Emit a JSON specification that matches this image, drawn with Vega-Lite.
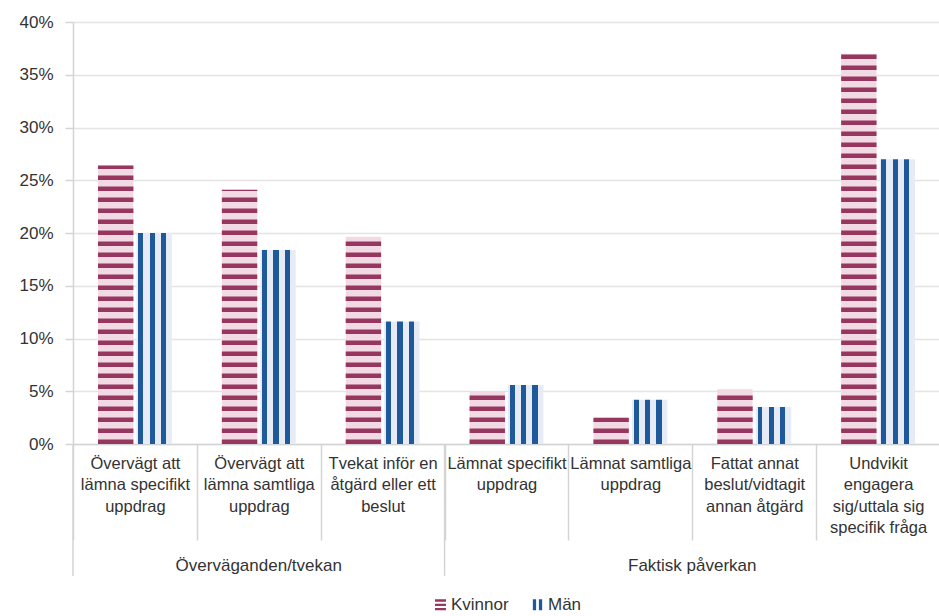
{
  "$schema": "https://vega.github.io/schema/vega-lite/v6.json",
  "width": 867,
  "height": 422,
  "padding": {"left": 18, "top": 13, "right": 0, "bottom": 0},
  "background": "white",
  "config": {
    "font": "Liberation Sans",
    "view": {"stroke": null},
    "legend": {"layout": {"bottom": {"anchor": "middle"}}}
  },
  "data": {
    "values": [
      {"group": "Överväganden/tvekan", "cat": "Övervägt att\nlämna specifikt\nuppdrag", "gender": "Kvinnor", "value": 0.264},
      {"group": "Överväganden/tvekan", "cat": "Övervägt att\nlämna specifikt\nuppdrag", "gender": "Män", "value": 0.200},
      {"group": "Överväganden/tvekan", "cat": "Övervägt att\nlämna samtliga\nuppdrag", "gender": "Kvinnor", "value": 0.241},
      {"group": "Överväganden/tvekan", "cat": "Övervägt att\nlämna samtliga\nuppdrag", "gender": "Män", "value": 0.184},
      {"group": "Överväganden/tvekan", "cat": "Tvekat inför en\nåtgärd eller ett\nbeslut", "gender": "Kvinnor", "value": 0.1965},
      {"group": "Överväganden/tvekan", "cat": "Tvekat inför en\nåtgärd eller ett\nbeslut", "gender": "Män", "value": 0.116},
      {"group": "Faktisk påverkan", "cat": "Lämnat specifikt\nuppdrag", "gender": "Kvinnor", "value": 0.050},
      {"group": "Faktisk påverkan", "cat": "Lämnat specifikt\nuppdrag", "gender": "Män", "value": 0.056},
      {"group": "Faktisk påverkan", "cat": "Lämnat samtliga\nuppdrag", "gender": "Kvinnor", "value": 0.025},
      {"group": "Faktisk påverkan", "cat": "Lämnat samtliga\nuppdrag", "gender": "Män", "value": 0.042},
      {"group": "Faktisk påverkan", "cat": "Fattat annat\nbeslut/vidtagit\nannan åtgärd", "gender": "Kvinnor", "value": 0.052},
      {"group": "Faktisk påverkan", "cat": "Fattat annat\nbeslut/vidtagit\nannan åtgärd", "gender": "Män", "value": 0.035},
      {"group": "Faktisk påverkan", "cat": "Undvikit\nengagera\nsig/uttala sig\nspecifik fråga", "gender": "Kvinnor", "value": 0.370},
      {"group": "Faktisk påverkan", "cat": "Undvikit\nengagera\nsig/uttala sig\nspecifik fråga", "gender": "Män", "value": 0.270}
    ]
  },
  "encoding": {
    "x": {
      "field": "cat",
      "type": "nominal",
      "scale": {
        "domain": [
          "Övervägt att\nlämna specifikt\nuppdrag",
          "Övervägt att\nlämna samtliga\nuppdrag",
          "Tvekat inför en\nåtgärd eller ett\nbeslut",
          "Lämnat specifikt\nuppdrag",
          "Lämnat samtliga\nuppdrag",
          "Fattat annat\nbeslut/vidtagit\nannan åtgärd",
          "Undvikit\nengagera\nsig/uttala sig\nspecifik fråga"
        ],
        "paddingInner": 0,
        "paddingOuter": 0
      },
      "axis": {
        "title": null,
        "labelExpr": "split(datum.label, '\\n')",
        "labelFont": "Liberation Sans",
        "labelFontSize": 16.5,
        "labelLineHeight": 21.5,
        "labelColor": "#333333",
        "labelAngle": 0,
        "labelAlign": "center",
        "labelBaseline": "top",
        "labelPadding": -85,
        "labelLimit": 400,
        "labelOverlap": false,
        "tickBand": "extent",
        "tickSize": 96,
        "tickColor": "#d4d4d4",
        "tickWidth": 1.5,
        "domainColor": "#d4d4d4",
        "domainWidth": 1.5
      }
    },
    "y": {
      "field": "value",
      "type": "quantitative",
      "scale": {"domain": [0, 0.4], "nice": false, "zero": false},
      "axis": {
        "title": null,
        "format": ".0%",
        "values": [0, 0.05, 0.1, 0.15, 0.2, 0.25, 0.3, 0.35, 0.4],
        "labelFont": "Liberation Sans",
        "labelFontSize": 17,
        "labelColor": "#333333",
        "labelPadding": 12,
        "tickSize": 8,
        "tickColor": "#d4d4d4",
        "tickWidth": 1.5,
        "domainColor": "#d4d4d4",
        "domainWidth": 1.5,
        "gridColor": "#e4e4e4",
        "gridWidth": 1.5
      }
    }
  },
  "layer": [
    {
      "transform": [{"filter": "datum.gender === 'Kvinnor'"}],
      "mark": {"type": "bar", "fill": "#f2dae4"},
      "encoding": {
        "xOffset": {"field": "gender", "type": "nominal", "scale": {"domain": ["Kvinnor", "Män"], "paddingInner": 0.08, "paddingOuter": 0.65}}
      }
    },
    {
      "transform": [{"filter": "datum.gender === 'Kvinnor'"}],
      "mark": {"type": "rule", "stroke": "#97375f", "strokeWidth": 35.4, "strokeDash": [4.5, 6.5], "strokeCap": "butt"},
      "encoding": {
        "xOffset": {"field": "gender", "type": "nominal"},
        "y": {"datum": 0, "type": "quantitative"},
        "y2": {"field": "value"}
      }
    },
    {
      "transform": [{"filter": "datum.gender === 'Män'"}],
      "mark": {
        "type": "bar",
        "fill": {
          "gradient": "linear",
          "x1": 0, "y1": 0, "x2": 1, "y2": 0,
          "stops": [
            {"offset": 0, "color": "#e6ebf5"},
            {"offset": 0.05, "color": "#e6ebf5"},
            {"offset": 0.05, "color": "#1e5a9b"},
            {"offset": 0.19, "color": "#1e5a9b"},
            {"offset": 0.19, "color": "#e6ebf5"},
            {"offset": 0.37, "color": "#e6ebf5"},
            {"offset": 0.37, "color": "#1e5a9b"},
            {"offset": 0.52, "color": "#1e5a9b"},
            {"offset": 0.52, "color": "#e6ebf5"},
            {"offset": 0.69, "color": "#e6ebf5"},
            {"offset": 0.69, "color": "#1e5a9b"},
            {"offset": 0.84, "color": "#1e5a9b"},
            {"offset": 0.84, "color": "#e6ebf5"},
            {"offset": 1, "color": "#e6ebf5"}
          ]
        }
      },
      "encoding": {
        "xOffset": {"field": "gender", "type": "nominal"}
      }
    },
    {
      "mark": {"type": "point", "filled": true, "opacity": 0},
      "encoding": {
        "xOffset": {"field": "gender", "type": "nominal"},
        "color": {
          "field": "gender",
          "type": "nominal",
          "scale": {"domain": ["Kvinnor", "Män"], "range": ["#97375f", "#1e5a9b"]},
          "legend": {
            "title": null,
            "orient": "bottom",
            "direction": "horizontal",
            "labelFont": "Liberation Sans",
            "labelFontSize": 17,
            "labelColor": "#333333",
            "labelOffset": 2,
            "columnPadding": 20,
            "symbolOpacity": 1,
            "symbolSize": 120,
            "symbolStrokeWidth": 0,
            "offset": 55,
            "encode": {"symbols": {"update": {"opacity": {"value": 1}, "fillOpacity": {"value": 1}}}}
          }
        },
        "shape": {
          "field": "gender",
          "type": "nominal",
          "scale": {
            "domain": ["Kvinnor", "Män"],
            "range": [
              "M-1,-1H1V-0.55H-1Z M-1,-0.2H1V0.25H-1Z M-1,0.6H1V1H-1Z",
              "M-0.85,-1H-0.25V1H-0.85Z M0.25,-1H0.85V1H0.25Z"
            ]
          }
        }
      }
    },
    {
      "transform": [
        {"filter": "datum.gender === 'Kvinnor'"},
        {"filter": "datum.cat === 'Övervägt att\\nlämna specifikt\\nuppdrag' || datum.cat === 'Lämnat specifikt\\nuppdrag'"}
      ],
      "mark": {"type": "rule", "stroke": "#d4d4d4", "strokeWidth": 1.5},
      "encoding": {
        "x": {"field": "cat", "type": "nominal", "bandPosition": 0},
        "y": {"datum": 0, "type": "quantitative"},
        "y2": {"datum": -0.125}
      }
    },
    {
      "transform": [
        {"filter": "datum.gender === 'Kvinnor'"},
        {"filter": "datum.cat === 'Övervägt att\\nlämna samtliga\\nuppdrag'"}
      ],
      "mark": {"type": "text", "font": "Liberation Sans", "fontSize": 17, "color": "#333333", "align": "center", "baseline": "middle"},
      "encoding": {
        "x": {"field": "cat", "type": "nominal", "bandPosition": 0.5},
        "y": {"datum": -0.116, "type": "quantitative"},
        "text": {"field": "group"}
      }
    },
    {
      "transform": [
        {"filter": "datum.gender === 'Kvinnor'"},
        {"filter": "datum.cat === 'Fattat annat\\nbeslut/vidtagit\\nannan åtgärd'"}
      ],
      "mark": {"type": "text", "font": "Liberation Sans", "fontSize": 17, "color": "#333333", "align": "center", "baseline": "middle"},
      "encoding": {
        "x": {"field": "cat", "type": "nominal", "bandPosition": 0},
        "y": {"datum": -0.116, "type": "quantitative"},
        "text": {"field": "group"}
      }
    }
  ]
}
